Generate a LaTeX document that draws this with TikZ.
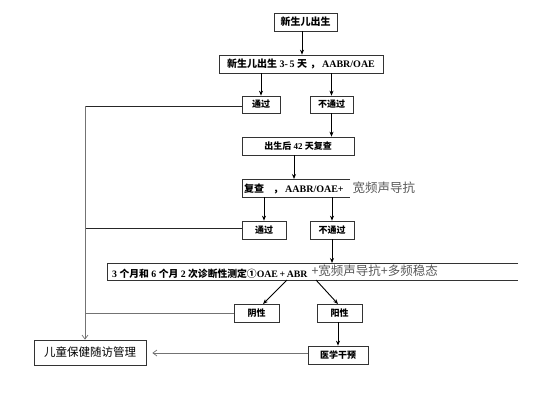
\documentclass[tikz,border=0pt]{standalone}
\usepackage{fontspec}
\setmainfont{Liberation Serif}
\newfontfamily\cjk{Noto Sans CJK SC}
\usetikzlibrary{arrows.meta,calc}
\newcommand\cb[1]{{\cjk\bfseries #1}}
\newcommand\gs[1]{{\cjk\mdseries\fontsize{12.5}{14}\selectfont\color{black!65}#1}}
\begin{document}
\begin{tikzpicture}[x=1pt,y=-1pt,
  box/.style={draw=black!80,line width=0.7pt,inner sep=0pt,font=\fontsize{9}{10}\selectfont\bfseries},
  bigtext/.style={font=\fontsize{10}{11}\selectfont\bfseries},
  arr/.style={-{Stealth[length=5pt,width=4pt]},line width=0.9pt,black},
  garr/.style={-{Straight Barb[length=4pt,width=6pt]},line width=0.7pt,black!55},
  gline/.style={line width=0.7pt,black!55},
  bline/.style={line width=0.7pt,black!85}]
\useasboundingbox[fill=white] (0,0) rectangle (556,400);
% nodes
\node[box,bigtext,minimum width=63pt,minimum height=18pt] (b1) at (305.5,22) {\cb{新生儿出生}};
\node[box,bigtext,minimum width=164pt,minimum height=18pt] (b2) at (301,64) {\cb{新生儿出生} 3-\,5 \cb{天}\hspace{3pt}\cb{，}\hspace{2pt}AABR/OAE};
\node[box,minimum width=38pt,minimum height=17pt] (p1) at (261,104.5) {\cb{通过}};
\node[box,minimum width=43pt,minimum height=17pt] (f1) at (331.5,104.5) {\cb{不通过}};
\node[box,minimum width=112pt,minimum height=18pt] (b3) at (298,146) {\cb{出生后} 42 \cb{天复查}};
% open box b4
\coordinate (b4tl) at (242,179);
\coordinate (b4bl) at (242,197);
\coordinate (b4tr) at (350,179);
\coordinate (b4br) at (350,197);
\draw[draw=black!80,line width=0.7pt] (b4tr) -- (b4tl) -- (b4bl) -- (b4br);
\node[anchor=west,inner sep=0pt,bigtext] (b4) at (244,188) {\cb{复查}\hspace{9pt}\cb{，}\hspace{2pt}AABR/OAE+\hspace{9pt}\gs{宽频声导抗}};
\node[box,minimum width=44pt,minimum height=18pt] (p2) at (264,230) {\cb{通过}};
\node[box,minimum width=44pt,minimum height=18pt] (f2) at (332,230) {\cb{不通过}};
% open long box b5
\coordinate (b5tl) at (107,263);
\coordinate (b5bl) at (107,280);
\coordinate (b5tr) at (518,263);
\coordinate (b5br) at (518,280);
\draw[draw=black!80,line width=0.7pt] (b5tr) -- (b5tl) -- (b5bl) -- (b5br);
\node[anchor=west,inner sep=0pt,font=\fontsize{9.8}{11}\selectfont\bfseries] (b5) at (112,271.5) {3 \cb{个月和} 6 \cb{个月} 2 \cb{次诊断性测定①}OAE\,+\,ABR\hspace{4pt}\raisebox{1.5pt}{\gs{+宽频声导抗+多频稳态}}};
\node[box,minimum width=45pt,minimum height=18pt] (neg) at (256.5,313) {\cb{阴性}};
\node[box,minimum width=45pt,minimum height=18pt] (pos) at (339.5,313) {\cb{阳性}};
\node[box,minimum width=60pt,minimum height=18pt] (med) at (338,355) {\cb{医学干预}};
\node[draw=black!80,line width=0.7pt,inner sep=0pt,minimum width=112pt,minimum height=25pt,font=\cjk\fontsize{11.5}{13}\selectfont] (child) at (90,352.5) {儿童保健随访管理};
% connector coordinates
\coordinate (c1) at (85,106);
\coordinate (c2) at (85,228);
\coordinate (c3) at (85,313);
\coordinate (s1) at (287,280);
\coordinate (s2) at (316,280);
\coordinate (e1) at (263,304);
\coordinate (e2) at (338,304);
% arrows
\draw[arr] (b1.south -| 302,0) -- (b2.north -| 302,0);
\draw[arr] (b2.south -| p1) -- (p1.north);
\draw[arr] (b2.south -| f1) -- (f1.north);
\draw[arr] (f1.south) -- (b3.north -| f1);
\draw[arr] (b3.south -| 294,0) -- (b4tl -| 294,0);
\draw[arr] (b4bl -| p2) -- (p2.north);
\draw[arr] (b4bl -| f2) -- (f2.north);
\draw[arr] (f2.south) -- (b5tl -| f2);
\draw[arr] (s1) -- (e1);
\draw[arr] (s2) -- (e2);
\draw[arr] (pos.south -| e2) -- (med.north -| e2);
\draw[garr,shorten >=6pt] (med.west |- 0,353) -- (child.east |- 0,353);
\draw[bline] (p1.west |- c1) -- (c1);
\draw[bline] (p2.west |- c2) -- (c2);
\draw[gline] (neg.west) -- (c3);
\draw[garr] (c1) -- (child.north -| c1);
\end{tikzpicture}
\end{document}
